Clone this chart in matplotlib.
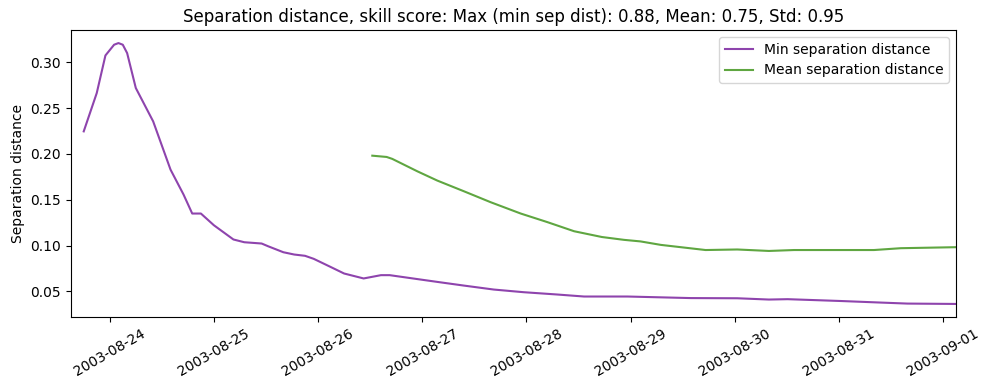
import matplotlib
matplotlib.use("Agg")
import matplotlib.pyplot as plt
import matplotlib.dates as mdates
import pandas as pd

base = pd.Timestamp("2003-08-24 00:00")

# hours since 2003-08-24 00:00 and values
min_hours = [-6, -3, -1, 1, 2, 3, 4, 6, 10, 14, 17, 19, 21, 24, 28.5, 31, 35, 36.5,
             40, 42.5, 45, 47, 51, 54, 58.5, 62.5, 64.5, 71.5, 76, 81.5, 88.5, 95.4,
             103.1, 109.3, 119.3, 133.9, 144.6, 151.9, 156.2, 168.5, 177.7, 183.8, 195]
min_vals = [0.2246, 0.2664, 0.3074, 0.3191, 0.3209, 0.3191, 0.3100, 0.2719, 0.2355,
            0.1829, 0.1557, 0.1350, 0.1350, 0.1222, 0.1067, 0.1037, 0.1023, 0.0993,
            0.0928, 0.0903, 0.0889, 0.0856, 0.0765, 0.0696, 0.0642, 0.0678, 0.0678,
            0.0631, 0.0601, 0.0565, 0.0521, 0.0492, 0.0467, 0.0445, 0.0445, 0.0428,
            0.0426, 0.0412, 0.0416, 0.0396, 0.0379, 0.0368, 0.0364]

mean_hours = [60.5, 63.8, 65.1, 70.9, 75.5, 81.6, 87.8, 94.7, 100.8, 107, 113.4,
              118.5, 122.3, 127, 137.3, 144.6, 151.9, 157.7, 176.1, 182.3, 195]
mean_vals = [0.1981, 0.1967, 0.1946, 0.1810, 0.1709, 0.1593, 0.1473, 0.1350, 0.1257,
             0.1157, 0.1094, 0.1063, 0.1046, 0.1008, 0.0952, 0.0958, 0.0942, 0.0952,
             0.0952, 0.0972, 0.0983]

min_t = base + pd.to_timedelta(min_hours, unit="h")
mean_t = base + pd.to_timedelta(mean_hours, unit="h")

fig, ax = plt.subplots(figsize=(9.89, 3.9), dpi=100)
fig.subplots_adjust(left=0.0715, right=0.9666, bottom=0.1872, top=0.923)
ax.plot(min_t, min_vals, color="#8e44ad", lw=1.5, label="Min separation distance")
ax.plot(mean_t, mean_vals, color="#5fa641", lw=1.5, label="Mean separation distance")
ax.set_xlim(pd.Timestamp("2003-08-23 15:00"), pd.Timestamp("2003-09-01 03:00"))
ax.xaxis.set_major_locator(mdates.DayLocator())
ax.xaxis.set_major_formatter(mdates.DateFormatter("%Y-%m-%d"))
plt.setp(ax.get_xticklabels(), rotation=30)
ax.set_ylabel("Separation distance")
ax.set_title("Separation distance, skill score: Max (min sep dist): 0.88, Mean: 0.75, Std: 0.95")
ax.legend(loc="upper right")
fig.savefig("out.png")
